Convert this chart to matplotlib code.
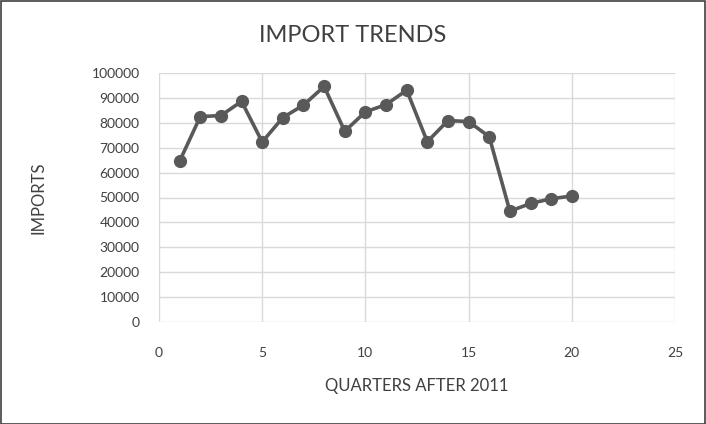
import matplotlib
matplotlib.use('Agg')
import matplotlib.pyplot as plt
from matplotlib.patches import Rectangle

quarters = list(range(1, 21))
imports = [64600, 82500, 82900, 88600, 72300, 82100, 87100, 94600, 76600, 84400,
           87300, 93100, 72400, 80900, 80500, 74400, 44500, 47600, 49500, 50600]
xticks = [0, 5, 10, 15, 20, 25]
yticks = list(range(0, 100001, 10000))

plt.rcParams['font.family'] = ['Lato', 'DejaVu Sans']

fig = plt.figure(figsize=(7.06, 4.24), dpi=100)
ax = fig.add_axes([159/706, 1 - 322/424, (675 - 159)/706, (322 - 73)/424])

ax.plot(quarters, imports, color='#595959', lw=2.6, marker='o', ms=8.5,
        markerfacecolor='#595959', markeredgecolor='#595959', zorder=3)

ax.set_xlim(0, 25)
ax.set_ylim(0, 100000)
ax.set_xticks(xticks)
ax.set_yticks(yticks)
ax.grid(True, color='#d9d9d9', lw=1)
ax.set_axisbelow(True)
for s in ax.spines.values():
    s.set_visible(False)
ax.tick_params(length=0, labelsize=10, labelcolor='#404040')
ax.tick_params(axis='x', pad=18)
ax.tick_params(axis='y', pad=14)

ax.set_xlabel('QUARTERS AFTER 2011', fontsize=12, color='#404040', labelpad=14)
ax.set_ylabel('IMPORTS', fontsize=12, color='#404040', labelpad=32)
fig.text(353/706, 1 - 35/424, 'IMPORT TRENDS', ha='center', va='center',
         fontsize=17, color='#404040')

fig.patches.append(Rectangle((0.5/706, 0.5/424), 1 - 1.5/706, 1 - 1.5/424,
                             transform=fig.transFigure, fill=False,
                             edgecolor='#404040', lw=1.2))

fig.savefig('out.png', dpi=100)
